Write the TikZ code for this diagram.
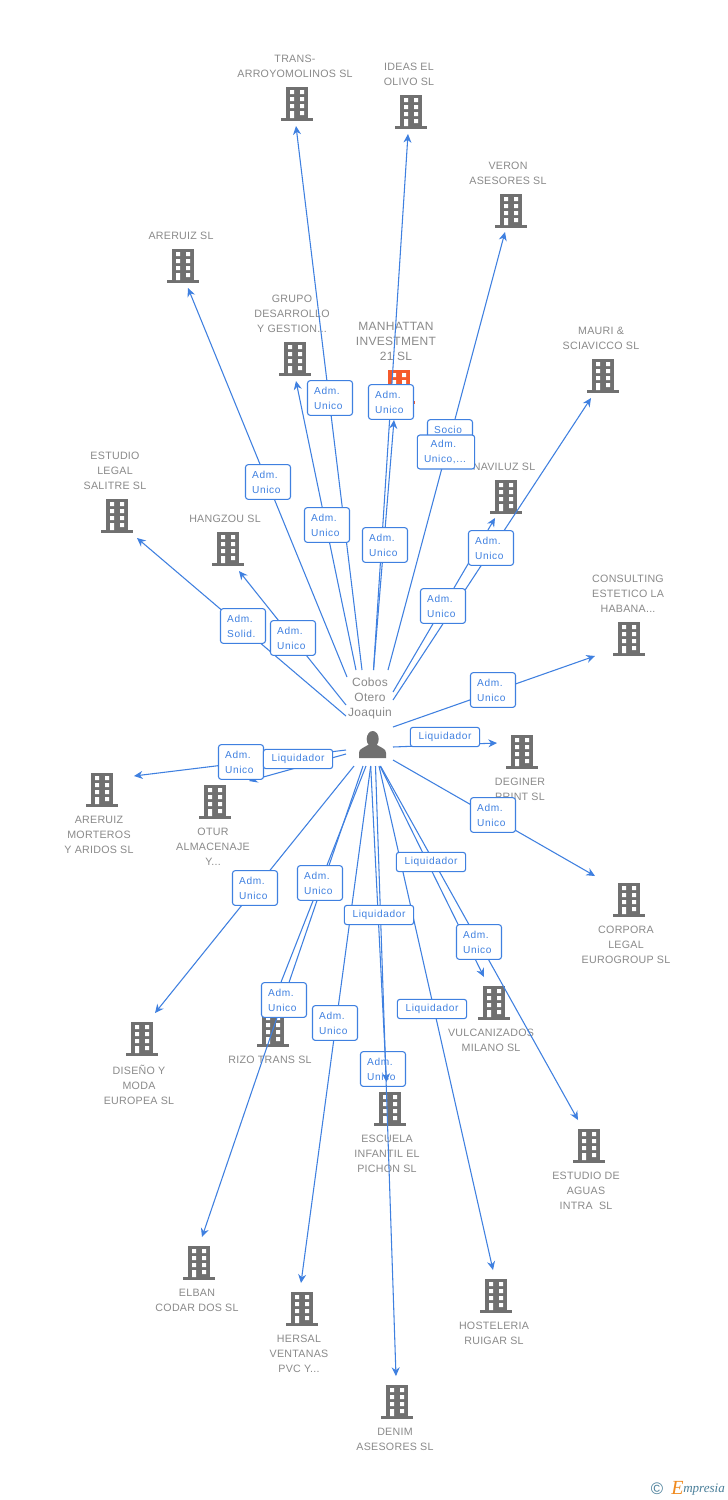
\documentclass[tikz,border=0pt]{standalone}
\usepackage{fontspec}
\setmainfont{Liberation Sans}
\newfontfamily\lblfont[LetterSpace=2.5]{Liberation Sans}
\newfontfamily\boxfont[LetterSpace=6]{Liberation Sans}
\newfontfamily\logofont[Ligatures=TeX]{Liberation Serif}
\usetikzlibrary{arrows.meta}
\definecolor{bgray}{HTML}{707070}
\definecolor{tgray}{HTML}{8A8A8A}
\definecolor{eblue}{HTML}{3F80E0}
\definecolor{morange}{HTML}{F55A2C}
\definecolor{lblue}{HTML}{4A7F9A}
\definecolor{lorange}{HTML}{F08A1E}
\tikzset{
  lbl/.style={anchor=north,align=center,inner sep=0pt,text=tgray,font=\lblfont\fontsize{8}{11.25}\selectfont},
  lblbig/.style={lbl,font=\lblfont\fontsize{9}{11.25}\selectfont},
  conn/.style={draw=eblue,line width=0.8pt,-{Stealth[length=6.5pt,width=6pt]}},
  boxbase/.style={draw=eblue,line width=0.8pt,rounded corners=2pt,fill=white,text=eblue,inner sep=0pt,
     font=\boxfont\fontsize{7.6}{11.25}\selectfont},
  boxb/.style={boxbase,text width=23.75pt,align=left,minimum width=33.75pt,minimum height=26pt},
  boxw/.style={boxbase,text width=33pt,align=left,minimum width=43pt,minimum height=25.5pt},
  boxl/.style={boxbase,align=center,minimum width=52pt,minimum height=14.5pt},
  bldn/.style={inner sep=0pt,minimum width=24pt,minimum height=26pt}
}
\newcommand\bld[4]{%
  \node[bldn] (#1) at (#2,#3) {};
  \begin{scope}[shift={(#2,#3)}]
    \fill[#4] (-11,-17) rectangle (11,14);
    \fill[#4] (-16,14) rectangle (16,17);
    \fill[white] (-7,-14) rectangle (-3,-10) (3,-14) rectangle (7,-10)
                 (-7,-7) rectangle (-3,-3) (3,-7) rectangle (7,-3)
                 (-7,0) rectangle (-3,4) (3,0) rectangle (7,4)
                 (-7,7) rectangle (-3,14) (3,7) rectangle (7,11);
  \end{scope}}
\newcommand\conx[5]{%
  \coordinate (#1s) at (#2,#3);
  \coordinate (#1t) at (#4,#5);
  \draw[conn] (#1s) -- (#1t);}
\begin{document}
\begin{tikzpicture}[x=0.75pt,y=-0.75pt]
\useasboundingbox (0,0) rectangle (728,1500);
\fill[white] (0,0) rectangle (728,1500);
% buildings
\bld{trans}{297}{104}{bgray}
\bld{ideas}{411}{112}{bgray}
\bld{veron}{511}{211}{bgray}
\bld{areruiz}{183}{266}{bgray}
\bld{grupo}{295}{359}{bgray}
\bld{manhattan}{399}{387}{morange}
\bld{mauri}{603}{376}{bgray}
\bld{naviluz}{506}{497}{bgray}
\bld{legal}{117}{516}{bgray}
\bld{hangzou}{228}{549}{bgray}
\bld{consulting}{629}{639}{bgray}
\bld{deginer}{522}{752}{bgray}
\bld{morteros}{102}{790}{bgray}
\bld{otur}{215}{802}{bgray}
\bld{corpora}{629}{900}{bgray}
\bld{diseno}{142}{1039}{bgray}
\bld{rizo}{273}{1030}{bgray}
\bld{escuela}{390}{1109}{bgray}
\bld{vulcan}{494}{1003}{bgray}
\bld{aguas}{589}{1146}{bgray}
\bld{elban}{199}{1263}{bgray}
\bld{hersal}{302}{1309}{bgray}
\bld{hosteleria}{496}{1296}{bgray}
\bld{denim}{397}{1402}{bgray}
% labels
\node[lbl] (ltrans) at (295,55) {TRANS-\\ARROYOMOLINOS SL};
\node[lbl] (lideas) at (409,63) {IDEAS EL\\OLIVO SL};
\node[lbl] (lveron) at (508,162) {VERON\\ASESORES SL};
\node[lbl] (lareruiz) at (181,232) {ARERUIZ SL};
\node[lbl] (lgrupo) at (292,295) {GRUPO\\DESARROLLO\\Y GESTION...};
\node[lblbig] (lmanhattan) at (396,322) {MANHATTAN\\INVESTMENT\\21 SL};
\node[lbl] (lmauri) at (601,327) {MAURI \&\\SCIAVICCO SL};
\node[lbl] (lnaviluz) at (504,463) {NAVILUZ SL};
\node[lbl] (llegal) at (115,452) {ESTUDIO\\LEGAL\\SALITRE SL};
\node[lbl] (lhangzou) at (225,515) {HANGZOU SL};
\node[lbl] (lconsulting) at (628,575) {CONSULTING\\ESTETICO LA\\HABANA...};
\node[lbl] (ldeginer) at (520,778) {DEGINER\\PRINT SL};
\node[lbl] (lmorteros) at (99,816) {ARERUIZ\\MORTEROS\\Y ARIDOS SL};
\node[lbl] (lotur) at (213,828) {OTUR\\ALMACENAJE\\Y...};
\node[lbl] (lcorpora) at (626,926) {CORPORA\\LEGAL\\EUROGROUP SL};
\node[lbl] (ldiseno) at (139,1065) {DISEÑO Y\\MODA\\EUROPEA SL};
\node[lbl] (lrizo) at (270,1056) {RIZO TRANS SL};
\node[lbl] (lescuela) at (387,1135) {ESCUELA\\INFANTIL EL\\PICHON SL};
\node[lbl] (lvulcan) at (491,1029) {VULCANIZADOS\\MILANO SL};
\node[lbl] (laguas) at (586,1172) {ESTUDIO DE\\AGUAS\\INTRA\ \ SL};
\node[lbl] (lelban) at (197,1289) {ELBAN\\CODAR DOS SL};
\node[lbl] (lhersal) at (299,1335) {HERSAL\\VENTANAS\\PVC Y...};
\node[lbl] (lhosteleria) at (494,1322) {HOSTELERIA\\RUIGAR SL};
\node[lbl] (ldenim) at (395,1428) {DENIM\\ASESORES SL};
\node[lblbig] (lperson) at (370,678) {Cobos\\Otero\\Joaquin};
% person
\node[inner sep=0pt,minimum size=20pt] (person) at (372,745) {};
\fill[bgray] (372.7,739) ellipse (6 and 8);
\fill[bgray] (359,758) -- (359,753) .. controls (359,749) and (363,748) .. (368,745)
  -- (377,745) .. controls (382,748) and (386,749) .. (386,753) -- (386,758) -- cycle;
% connectors and boxes
\conx{a}{362}{670}{296}{126}
\conx{b}{388}{670}{505}{232}
\conx{c}{356}{670}{296}{381}
\conx{d}{347}{677}{188}{288}
\conx{e}{346}{716}{137}{538}
\conx{f}{346}{705}{239}{571}
\conx{g}{393}{692}{495}{518}
\conx{h}{393}{700}{591}{398}
\conx{i}{393}{727}{595}{656}
\conx{j}{393}{747}{497}{743}
\conx{k}{393}{760}{595}{876}
\conx{l}{346}{750}{134}{776}
\conx{m}{346}{754}{249}{781}
\conx{n}{354}{766}{155}{1013}
\conx{o}{363}{766}{202}{1237}
\conx{p}{366}{766}{274}{1000}
\conx{q}{370.7}{766}{301}{1283}
\conx{s}{379}{766}{493}{1270}
\conx{t}{380}{766}{484}{977}
\conx{u}{380.5}{766}{578}{1120}
\conx{v}{373.5}{670}{394}{420}
\conx{w}{373.5}{670}{408}{134}
\node[boxb] (socio) at (450,437) {Socio\\\mbox{}};
\node[boxb] (bw) at (391,402) {Adm.\\Unico};
\node[boxb] (ba) at (330,398) {Adm.\\Unico};
\node[boxb] (bc) at (327,525) {Adm.\\Unico};
\node[boxb] (bd) at (268,482) {Adm.\\Unico};
\node[boxb] (be) at (243,626) {Adm.\\Solid.};
\node[boxb] (bf) at (293,638) {Adm.\\Unico};
\node[boxb] (bv) at (385,545) {Adm.\\Unico};
\node[boxb] (bg) at (443,606) {Adm.\\Unico};
\node[boxb] (bh) at (491,548) {Adm.\\Unico};
\node[boxw] (bb) at (446,452) {\hspace{5pt}Adm.\\Unico,...};
\node[boxb] (bi) at (493,690) {Adm.\\Unico};
\node[boxl] (bj) at (445,737) {Liquidador};
\node[boxb] (bk) at (493,815) {Adm.\\Unico};
\node[boxb] (bl) at (241,762) {Adm.\\Unico};
\node[boxl] (bm) at (298,759) {Liquidador};
\node[boxb] (bn) at (255,888) {Adm.\\Unico};
\node[boxb] (bp) at (320,883) {Adm.\\Unico};
\node[boxb] (bo) at (284,1000) {Adm.\\Unico};
\node[boxb] (bq) at (335,1023) {Adm.\\Unico};
\node[boxl] (bs) at (432,1009) {Liquidador};
\node[boxl] (bt) at (431,862) {Liquidador};
\node[boxb] (bu) at (479,942) {Adm.\\Unico};
\node[boxb] (bx) at (383,1069) {Adm.\\Unico};
\conx{x}{375.5}{766}{396}{1376}
\conx{r}{370.7}{766}{386.5}{1082}
\node[boxl] (br) at (379,915) {Liquidador};
% logo
\node[inner sep=0pt,text=lblue] (copy) at (657,1489) {\fontsize{12.5}{13}\selectfont ©};
\node[inner sep=0pt,text=lorange] (elogo) at (677.5,1488) {\logofont\itshape\fontsize{15}{15}\selectfont E};
\node[inner sep=0pt,anchor=west,text=lblue] (mlogo) at (683,1489.5) {\logofont\itshape\fontsize{9.8}{10}\selectfont mpresia};
\end{tikzpicture}
\end{document}
